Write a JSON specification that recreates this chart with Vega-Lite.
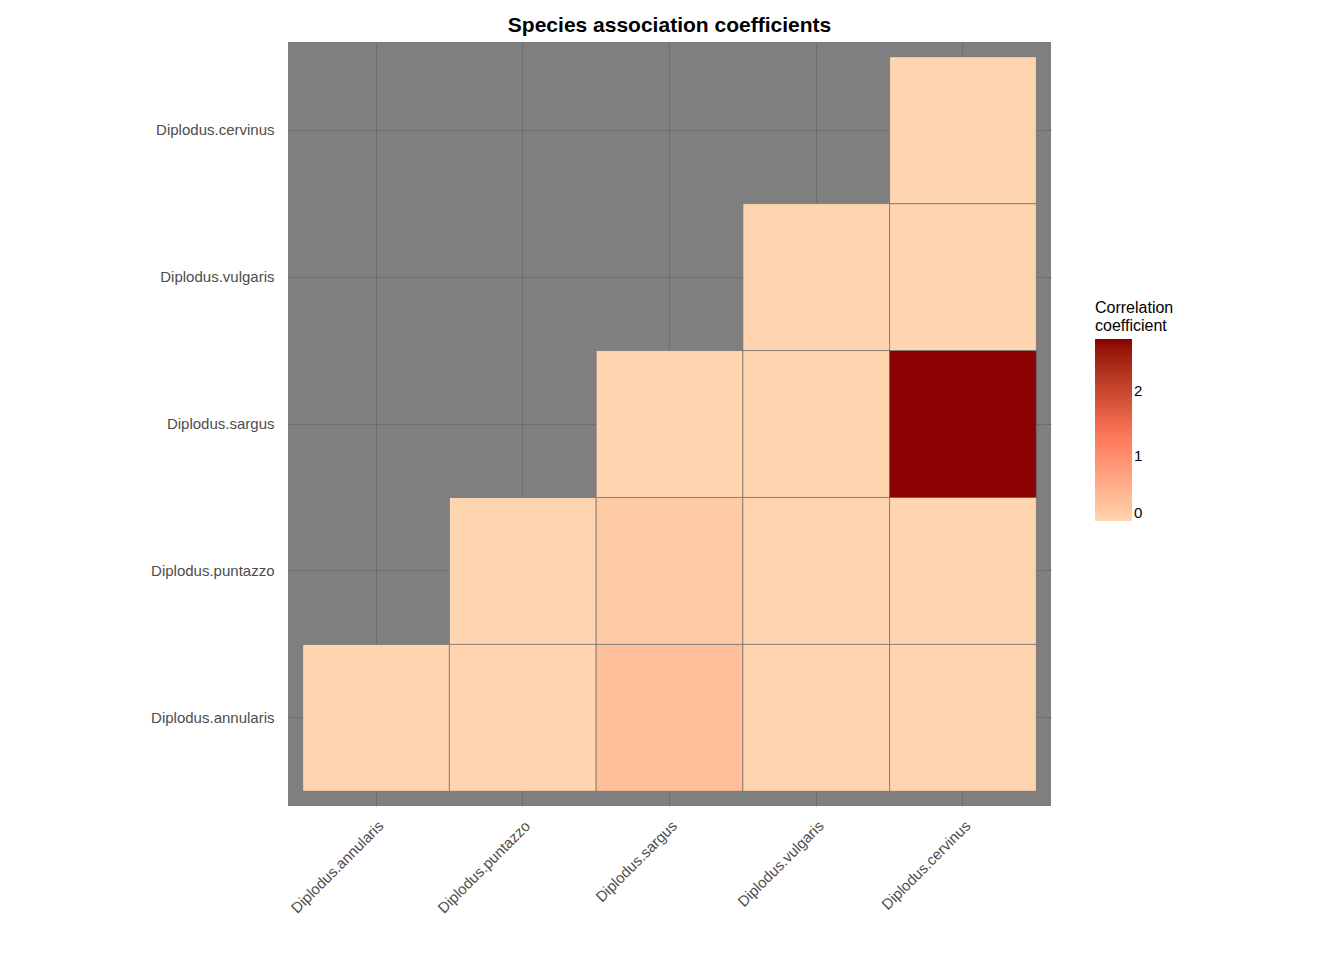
{
  "$schema": "https://vega.github.io/schema/vega-lite/v6.json",
  "width": 763,
  "height": 764,
  "autosize": {"type": "none"},
  "padding": {"left": 288, "top": 42, "right": 293, "bottom": 154},
  "background": "white",
  "config": {
    "view": {"fill": "#7f7f7f", "stroke": null},
    "font": "Liberation Sans"
  },
  "title": {
    "text": "Species association coefficients",
    "fontSize": 21,
    "fontWeight": "bold",
    "color": "black",
    "anchor": "middle",
    "offset": 6
  },
  "data": {
    "values": [
      {"x": "Diplodus.annularis", "y": "Diplodus.annularis", "value": 0},
      {"x": "Diplodus.puntazzo", "y": "Diplodus.annularis", "value": 0.01},
      {"x": "Diplodus.sargus", "y": "Diplodus.annularis", "value": 0.3},
      {"x": "Diplodus.vulgaris", "y": "Diplodus.annularis", "value": 0},
      {"x": "Diplodus.cervinus", "y": "Diplodus.annularis", "value": 0},
      {"x": "Diplodus.puntazzo", "y": "Diplodus.puntazzo", "value": 0},
      {"x": "Diplodus.sargus", "y": "Diplodus.puntazzo", "value": 0.13},
      {"x": "Diplodus.vulgaris", "y": "Diplodus.puntazzo", "value": 0},
      {"x": "Diplodus.cervinus", "y": "Diplodus.puntazzo", "value": 0},
      {"x": "Diplodus.sargus", "y": "Diplodus.sargus", "value": 0},
      {"x": "Diplodus.vulgaris", "y": "Diplodus.sargus", "value": 0},
      {"x": "Diplodus.cervinus", "y": "Diplodus.sargus", "value": 2.8},
      {"x": "Diplodus.vulgaris", "y": "Diplodus.vulgaris", "value": 0},
      {"x": "Diplodus.cervinus", "y": "Diplodus.vulgaris", "value": 0},
      {"x": "Diplodus.cervinus", "y": "Diplodus.cervinus", "value": 0}
    ]
  },
  "mark": {"type": "rect", "stroke": "#6e6e6e", "strokeWidth": 0.7},
  "encoding": {
    "x": {
      "field": "x",
      "type": "nominal",
      "sort": ["Diplodus.annularis", "Diplodus.puntazzo", "Diplodus.sargus", "Diplodus.vulgaris", "Diplodus.cervinus"],
      "scale": {"paddingInner": 0, "paddingOuter": 0.1},
      "axis": {
        "title": null,
        "labelAngle": -45,
        "labelAlign": "right",
        "labelBaseline": "top",
        "labelFontSize": 15,
        "labelColor": "#4d4d4d",
        "labelPadding": 12,
        "ticks": false,
        "domain": false,
        "grid": true,
        "gridColor": "#666666",
        "gridWidth": 0.7,
        "bandPosition": 0.5,
        "zindex": 0
      }
    },
    "y": {
      "field": "y",
      "type": "nominal",
      "sort": ["Diplodus.cervinus", "Diplodus.vulgaris", "Diplodus.sargus", "Diplodus.puntazzo", "Diplodus.annularis"],
      "scale": {"paddingInner": 0, "paddingOuter": 0.1},
      "axis": {
        "title": null,
        "labelFontSize": 15,
        "labelColor": "#4d4d4d",
        "labelPadding": 14,
        "ticks": false,
        "domain": false,
        "grid": true,
        "gridColor": "#666666",
        "gridWidth": 0.7,
        "bandPosition": 0.5,
        "zindex": 0
      }
    },
    "color": {
      "field": "value",
      "type": "quantitative",
      "scale": {
        "type": "linear",
        "domain": [0, 2.8],
        "range": ["#ffffff", "#8b0000"]
      },
      "legend": {
        "title": ["Correlation", "coefficient"],
        "titleFontSize": 16,
        "titleFontWeight": "normal",
        "titleColor": "black",
        "labelFontSize": 15,
        "labelColor": "black",
        "values": [0, 1, 2],
        "gradientLength": 182,
        "gradientThickness": 37,
        "orient": "none",
        "legendX": 807,
        "legendY": 258
      }
    }
  }
}
